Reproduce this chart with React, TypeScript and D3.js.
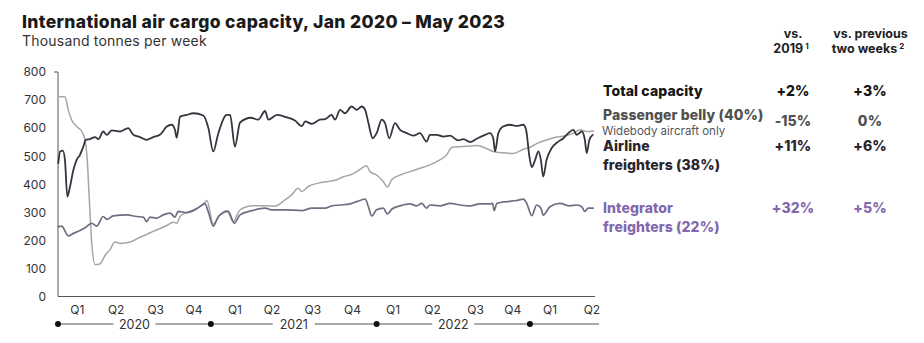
import React, { useEffect } from 'react';
import * as d3 from 'd3';

// ---------- DATA ----------
const START = new Date(2020, 0, 1);
const LAST_WEEK = 178;

// Passenger belly (widebody) – thousand tonnes per week
const bellyWeeks = [0.4, 2.3, 3.4, 4.5, 6.2, 7.9, 9.0, 9.7, 10.4, 11.2, 12.3, 13.9, 15.6, 17.3, 18.9, 20.6, 23.9, 27.2, 31.6, 36.1, 38.3, 39.4, 40.5, 42.1, 43.8, 45.5, 47.1, 48.8, 49.4, 51.5, 53.8, 56.0, 58.1, 60.4, 64.7, 68.7, 72.0, 75.3, 77.5, 79.7, 80.9, 83.0, 86.4, 89.7, 92.5, 94.7, 96.9, 99.1, 101.3, 102.4, 103.5, 105.7, 107.9, 109.3, 110.7, 113.5, 116.8, 120.1, 123.4, 126.7, 129.0, 130.6, 133.4, 136.7, 138.9, 141.1, 144.4, 147.7, 151.1, 154.4, 156.6, 158.8, 162.1, 165.5, 168.8, 171.0, 173.2, 175.4, 177.6];
const bellyValues = [712, 712, 665, 630, 606, 588, 556, 487, 344, 190, 114, 116, 146, 168, 194, 189, 194, 211, 232, 253, 265, 261, 285, 297, 303, 312, 320, 336, 342, 258, 291, 306, 267, 309, 323, 323, 322, 344, 362, 386, 374, 392, 404, 410, 416, 427, 433, 445, 461, 466, 445, 433, 410, 390, 416, 433, 445, 457, 469, 487, 505, 531, 534, 536, 538, 532, 517, 512, 510, 525, 532, 545, 558, 568, 574, 582, 594, 588, 590];

// Airline freighters
const airlineWeeks = [0.1, 0.7, 1.6, 2.3, 3.1, 4.0, 5.1, 6.2, 7.3, 8.4, 9.2, 10.6, 12.3, 13.4, 15.0, 16.2, 17.8, 20.6, 23.3, 25.0, 27.2, 29.4, 31.6, 33.8, 36.1, 37.7, 38.8, 39.4, 40.5, 42.7, 44.9, 48.2, 49.9, 51.5, 53.2, 56.0, 57.1, 58.7, 60.4, 64.0, 66.4, 68.7, 69.8, 72.7, 76.0, 78.6, 80.9, 82.0, 84.2, 86.9, 88.6, 90.8, 91.9, 93.6, 95.2, 97.4, 99.1, 100.8, 101.9, 103.0, 104.4, 105.7, 107.4, 108.5, 109.9, 111.8, 113.5, 115.7, 117.9, 120.1, 122.3, 123.4, 125.6, 127.8, 130.1, 132.8, 134.5, 136.7, 138.9, 141.7, 143.3, 144.4, 145.0, 146.1, 147.7, 150.0, 152.2, 154.4, 155.3, 156.4, 157.2, 158.3, 159.4, 160.2, 161.0, 162.1, 163.8, 166.0, 167.7, 169.3, 171.0, 172.1, 173.8, 174.8, 175.4, 176.3, 177.4];
const airlineValues = [475, 517, 520, 487, 356, 392, 451, 487, 505, 534, 558, 561, 568, 561, 588, 576, 592, 588, 600, 576, 568, 558, 568, 576, 606, 612, 594, 566, 641, 647, 653, 645, 600, 517, 582, 647, 647, 534, 620, 637, 630, 661, 630, 647, 638, 627, 607, 624, 615, 630, 632, 647, 630, 665, 653, 677, 665, 677, 665, 618, 564, 582, 630, 618, 564, 618, 594, 582, 573, 582, 552, 576, 576, 570, 573, 556, 561, 550, 562, 576, 582, 564, 517, 582, 606, 612, 608, 612, 594, 499, 461, 487, 517, 487, 427, 487, 529, 552, 564, 582, 594, 576, 588, 558, 511, 558, 576];

// Integrator freighters
const integratorWeeks = [0.1, 1.2, 3.4, 5.1, 7.3, 9.5, 11.2, 12.8, 15.0, 16.2, 18.3, 22.8, 26.1, 28.3, 29.4, 30.5, 32.7, 34.9, 37.2, 38.8, 39.9, 42.7, 45.5, 48.8, 49.9, 51.5, 53.2, 56.5, 58.5, 60.4, 64.3, 68.7, 70.9, 75.3, 80.9, 84.2, 88.6, 90.8, 93.6, 96.9, 99.1, 101.9, 103.0, 104.1, 105.7, 107.9, 109.3, 110.7, 113.5, 116.8, 119.0, 120.7, 122.3, 123.4, 126.7, 130.1, 133.4, 136.7, 140.0, 143.3, 144.2, 144.7, 145.6, 148.9, 152.2, 154.4, 155.5, 157.2, 158.8, 160.2, 161.0, 163.2, 166.5, 169.8, 172.1, 173.8, 174.8, 175.9, 177.6];
const integratorValues = [249, 251, 216, 225, 235, 249, 261, 251, 285, 275, 287, 291, 285, 283, 267, 283, 279, 291, 297, 283, 303, 299, 309, 330, 300, 251, 285, 303, 261, 291, 306, 315, 309, 309, 306, 315, 315, 323, 326, 330, 338, 347, 320, 287, 309, 315, 294, 311, 323, 330, 323, 332, 315, 326, 323, 332, 326, 323, 330, 330, 332, 306, 332, 338, 342, 347, 332, 288, 326, 315, 290, 320, 332, 323, 326, 320, 303, 315, 315];

const yTicks = [0, 100, 200, 300, 400, 500, 600, 700, 800];
const quarterLabels = ['Q1', 'Q2', 'Q3', 'Q4', 'Q1', 'Q2', 'Q3', 'Q4', 'Q1', 'Q2', 'Q3', 'Q4', 'Q1', 'Q2'];
const quarterDates = ['2020-02-15', '2020-05-15', '2020-08-15', '2020-11-12', '2021-02-15', '2021-05-12', '2021-08-15', '2021-11-15', '2022-02-17', '2022-05-20', '2022-08-28', '2022-11-22', '2023-02-17', '2023-05-25'];
const yearLabels = ['2020', '2021', '2022'];
const yearStarts = ['2020-01-01', '2020-12-21', '2022-01-10', '2023-01-01'];

const rowLabels = [['Total capacity'], ['Passenger belly (40%)'], ['Airline', 'freighters (38%)'], ['Integrator', 'freighters (22%)']];
const vs2019 = ['+2%', '-15%', '+11%', '+32%'];
const vsPrevious = ['+3%', '0%', '+6%', '+5%'];

// ---------- LAYOUT / STYLE ----------
const W = 924;
const H = 343;
const FONT = "Inter, 'Noto Sans', 'DejaVu Sans', sans-serif";
const C_AIRLINE = '#39323f';
const C_BELLY = '#a6a6a6';
const C_INTEGRATOR = '#736c82';
const C_PURPLE_TEXT = '#8468ad';

const toDate = (w: number) => new Date(START.getTime() + w * 7 * 864e5);
const parse = (s: string) => {
  const [y, m, d] = s.split('-').map(Number);
  return new Date(y, m - 1, d);
};

export default function App() {
  useEffect(() => {
    document.body.style.margin = '0';
  }, []);

  const x = d3.scaleTime().domain([START, toDate(LAST_WEEK)]).range([58, 594.5]);
  const y = d3.scaleLinear().domain([0, 800]).range([296.5, 72]);

  const line = d3
    .line<[number, number]>()
    .x((d) => x(toDate(d[0])))
    .y((d) => y(d[1]))
    .curve(d3.curveMonotoneX);

  const series = [
    { weeks: bellyWeeks, values: bellyValues, color: C_BELLY, width: 1.5 },
    { weeks: integratorWeeks, values: integratorValues, color: C_INTEGRATOR, width: 1.7 },
    { weeks: airlineWeeks, values: airlineValues, color: C_AIRLINE, width: 1.8 },
  ];

  const yearY = 324;
  const yearX = yearStarts.map((s) => x(parse(s)));

  const rowStyles = [
    { color: '#161616', y: 96 },
    { color: '#505050', y: 120 },
    { color: '#2a2430', y: 151 },
    { color: C_PURPLE_TEXT, y: 213 },
  ];
  const valueY = [96, 126, 151, 213];

  return (
    <svg width={W} height={H} style={{ display: 'block', background: '#fff', fontFamily: FONT }}>
      {/* Title */}
      <text x={22} y={27.5} fontSize={17.5} fontWeight={800} fill="#1a1a1a" letterSpacing={0.35}>
        International air cargo capacity, Jan 2020 – May 2023
      </text>
      <text x={22} y={46} fontSize={14} fill="#333" letterSpacing={0.2}>
        Thousand tonnes per week
      </text>

      {/* Y axis */}
      <path d={`M54,${y(800)}H58V${y(0)}`} fill="none" stroke="#555" strokeWidth={1} />
      {yTicks.map((t) => (
        <text key={t} x={46} y={y(t)} dy="0.36em" textAnchor="end" fontSize={12} fill="#333">
          {t}
        </text>
      ))}

      {/* X axis */}
      <line x1={58} x2={595} y1={y(0)} y2={y(0)} stroke="#555" strokeWidth={1} />
      {quarterLabels.map((q, i) => (
        <text key={i} x={x(parse(quarterDates[i]))} y={313.5} textAnchor="middle" fontSize={12} fill="#333">
          {q}
        </text>
      ))}

      {/* Year band */}
      <line x1={57} x2={599} y1={yearY} y2={yearY} stroke="#555" strokeWidth={1} />
      {yearLabels.map((yl, i) => {
        const cx = (yearX[i] + yearX[i + 1]) / 2;
        return (
          <g key={yl}>
            <rect x={cx - 21} y={yearY - 8} width={42} height={16} fill="#fff" />
            <text x={cx} y={yearY} dy="0.36em" textAnchor="middle" fontSize={12.5} fill="#333">
              {yl}
            </text>
          </g>
        );
      })}
      {yearX.map((cx, i) => (
        <circle key={i} cx={cx} cy={yearY} r={3} fill="#111" />
      ))}

      {/* Lines */}
      {series.map((s, i) => (
        <path
          key={i}
          d={line(s.weeks.map((w, j) => [w, s.values[j]] as [number, number])) || ''}
          fill="none"
          stroke={s.color}
          strokeWidth={s.width}
          strokeLinejoin="round"
          strokeLinecap="round"
        />
      ))}

      {/* Right table header */}
      <g fontSize={12.5} fontWeight={700} fill="#222" textAnchor="middle">
        <text x={793} y={37.5}>vs.</text>
        <text x={791} y={52.5}>
          2019<tspan dx={2} dy={-4} fontSize={8}>1</tspan>
        </text>
        <text x={870.5} y={37.5}>vs. previous</text>
        <text x={868} y={52.5}>
          two weeks<tspan dx={2} dy={-4} fontSize={8}>2</tspan>
        </text>
      </g>

      {/* Right table rows */}
      {rowLabels.map((lines, i) => (
        <g key={i} fontSize={14} fontWeight={800} fill={rowStyles[i].color} letterSpacing={0.1}>
          {lines.map((l, k) => (
            <text key={k} x={603} y={rowStyles[i].y + k * 18.5}>
              {l}
            </text>
          ))}
          <text x={793} y={valueY[i]} textAnchor="middle">
            {vs2019[i]}
          </text>
          <text x={870} y={valueY[i]} textAnchor="middle">
            {vsPrevious[i]}
          </text>
        </g>
      ))}
      <text x={602} y={134.5} fontSize={11.5} fill="#555">
        Widebody aircraft only
      </text>
    </svg>
  );
}
